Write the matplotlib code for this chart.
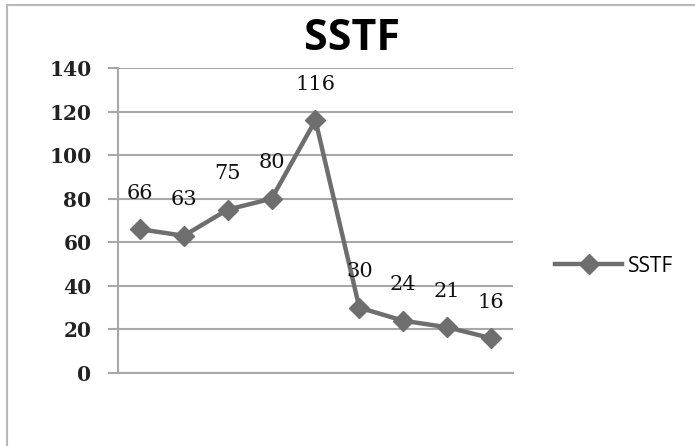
import matplotlib.pyplot as plt
from matplotlib.patches import Rectangle

# data
positions = list(range(1, 10))
seek_values = [66, 63, 75, 80, 116, 30, 24, 21, 16]
y_ticks = [0, 20, 40, 60, 80, 100, 120, 140]
series_name = "SSTF"

line_color = "#6e6e6e"
grid_color = "#a8a8a8"

fig = plt.figure(figsize=(6.95, 4.46), dpi=100)
ax = fig.add_axes([0.1698, 0.1637, 0.738 - 0.1698, 0.8475 - 0.1637])

# outer chart frame
fig.patches.append(Rectangle((7 / 695, -0.1), 1.1, (446 - 5) / 446 + 0.1,
                             transform=fig.transFigure, fill=False,
                             edgecolor="#b8b8b8", linewidth=1.5))

ax.plot(positions, seek_values, color=line_color, linewidth=3.2, marker="D",
        markersize=10, markerfacecolor=line_color, markeredgecolor=line_color,
        label=series_name, zorder=3)

for x, v in zip(positions, seek_values):
    ax.annotate(str(v), (x, v), xytext=(0, 19), textcoords="offset points",
                ha="center", va="bottom", fontsize=15, family="DejaVu Serif",
                color="#111111")

ax.set_xlim(0.5, 9.5)
ax.set_ylim(0, 140)
ax.set_yticks(y_ticks)
ax.set_yticklabels([str(t) for t in y_ticks], fontsize=14.5, fontweight="bold",
                   family="DejaVu Serif", color="#222222")
ax.set_xticks([])
ax.grid(axis="y", color=grid_color, linewidth=1.5)
ax.set_axisbelow(True)
ax.tick_params(axis="y", length=7, width=1.5, color=grid_color, pad=12)
for side in ["top", "right"]:
    ax.spines[side].set_visible(False)
ax.spines["left"].set_color(grid_color)
ax.spines["left"].set_linewidth(1.5)
ax.spines["bottom"].set_color(grid_color)
ax.spines["bottom"].set_linewidth(1.5)

fig.text(352 / 695, 1 - 39 / 446, "SSTF", ha="center", va="center",
         fontsize=31, fontweight="bold", family="Open Sans")

leg = ax.legend(loc="center left", bbox_to_anchor=(1.06, 0.35), frameon=False,
                handlelength=3.2, handletextpad=0.3,
                prop={"family": "Open Sans", "size": 15})

fig.savefig("out.png", dpi=100)
